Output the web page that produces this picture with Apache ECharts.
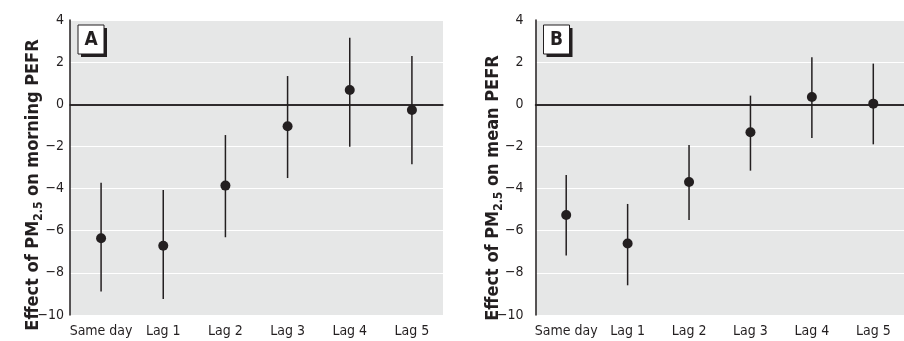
<!DOCTYPE html>
<html>
<head>
<meta charset="utf-8">
<script src="https://cdn.jsdelivr.net/npm/echarts@6/dist/echarts.min.js"></script>
<style>
  html, body { margin: 0; padding: 0; background: #fff; }
  #chart { width: 904px; height: 341px; }
</style>
</head>
<body>
<div id="chart"></div>
<script>
// data
var categories = ['Same day', 'Lag 1', 'Lag 2', 'Lag 3', 'Lag 4', 'Lag 5'];
var yTicks = [-10, -8, -6, -4, -2, 0, 2, 4];

// panel A: morning PEFR
var morningEst  = [-6.36, -6.71, -3.86, -1.04, 0.68, -0.27];
var morningLow  = [-8.89, -9.24, -6.31, -3.50, -2.01, -2.85];
var morningHigh = [-3.72, -4.07, -1.46, 1.34, 3.16, 2.29];

// panel B: mean PEFR
var meanEst  = [-5.25, -6.61, -3.69, -1.33, 0.35, 0.03];
var meanLow  = [-7.18, -8.59, -5.49, -3.15, -1.60, -1.90];
var meanHigh = [-3.36, -4.73, -1.93, 0.41, 2.23, 1.93];

var INK = '#231f20';
var FONT = '"Liberation Sans Narrow", "DejaVu Sans Condensed", "Liberation Sans", sans-serif';

function fmtTick(v) {
    return v < 0 ? '\u2212' + Math.abs(v) : String(v);
}

function xAxisFor(idx) {
    return {
        type: 'category',
        gridIndex: idx,
        data: categories,
        boundaryGap: true,
        axisLine: { lineStyle: { color: INK, width: 1.5 } },
        axisTick: { show: false },
        axisLabel: { color: INK, fontSize: 14, fontFamily: FONT, margin: 9, interval: 0 },
        splitLine: { show: false }
    };
}

function yAxisFor(idx, margin) {
    return {
        type: 'value',
        gridIndex: idx,
        min: yTicks[0],
        max: yTicks[yTicks.length - 1],
        interval: 2,
        axisLine: { show: true, lineStyle: { color: INK, width: 1.5 } },
        axisTick: { show: false },
        axisLabel: { color: INK, fontSize: 14, fontFamily: FONT, margin: margin, formatter: fmtTick },
        splitLine: { show: true, lineStyle: { color: '#ffffff', width: 1.2 } }
    };
}

function errorBars(idx, low, high) {
    var rows = low.map(function (l, i) { return [i, l, high[i]]; });
    return {
        type: 'custom',
        xAxisIndex: idx,
        yAxisIndex: idx,
        data: rows,
        encode: { x: 0, y: [1, 2] },
        z: 3,
        renderItem: function (params, api) {
            var a = api.coord([api.value(0), api.value(1)]);
            var b = api.coord([api.value(0), api.value(2)]);
            return {
                type: 'line',
                shape: { x1: a[0], y1: a[1], x2: b[0], y2: b[1] },
                style: { stroke: INK, lineWidth: 1.5 }
            };
        }
    };
}

function points(idx, est) {
    return {
        type: 'scatter',
        xAxisIndex: idx,
        yAxisIndex: idx,
        data: est,
        symbol: 'circle',
        symbolSize: 10,
        itemStyle: { color: INK, opacity: 1 },
        z: 4,
        markLine: {
            silent: true,
            symbol: 'none',
            label: { show: false },
            lineStyle: { color: INK, width: 1.5, type: 'solid' },
            data: [{ yAxis: 0 }]
        }
    };
}

function yTitle(x, y, middle) {
    return {
        type: 'text',
        x: x,
        y: y,
        rotation: Math.PI / 2,
        style: {
            text: '{b|Effect of PM}{s|2.5}{b|' + middle + '}',
            align: 'center',
            verticalAlign: 'middle',
            fill: INK,
            rich: {
                b: { fontSize: 18, fontWeight: 'bold', fontFamily: FONT, lineHeight: 24, fill: INK },
                s: { fontSize: 12, fontWeight: 'bold', fontFamily: FONT, lineHeight: 12, verticalAlign: 'bottom', fill: INK }
            }
        }
    };
}

function panelTag(x, y, letter) {
    return [
        { type: 'rect', shape: { x: x + 3, y: y + 3, width: 26, height: 29 }, style: { fill: INK }, z: 10 },
        { type: 'rect', shape: { x: x, y: y, width: 26, height: 29 }, style: { fill: '#fff', stroke: INK, lineWidth: 1 }, z: 11 },
        {
            type: 'text', x: x + 13, y: y + 15, z: 12,
            style: { text: letter, align: 'center', verticalAlign: 'middle', fontSize: 19, fontWeight: 'bold', fontFamily: FONT, fill: INK }
        }
    ];
}

var option = {
    animation: false,
    backgroundColor: '#ffffff',
    grid: [
        { left: 70, top: 20, width: 373, height: 295, show: true, backgroundColor: '#e6e7e7', borderWidth: 0 },
        { left: 535.5, top: 20, width: 374, height: 295, show: true, backgroundColor: '#e6e7e7', borderWidth: 0 }
    ],
    xAxis: [xAxisFor(0), xAxisFor(1)],
    yAxis: [yAxisFor(0, 6), yAxisFor(1, 12)],
    series: [
        errorBars(0, morningLow, morningHigh),
        points(0, morningEst),
        errorBars(1, meanLow, meanHigh),
        points(1, meanEst)
    ],
    graphic: [
        yTitle(33, 185, ' on morning PEFR'),
        yTitle(493, 188, ' on mean PEFR')
    ].concat(panelTag(78, 25, 'A'), panelTag(543.5, 25, 'B'))
};

echarts.init(document.getElementById('chart')).setOption(option);
</script>
</body>
</html>
